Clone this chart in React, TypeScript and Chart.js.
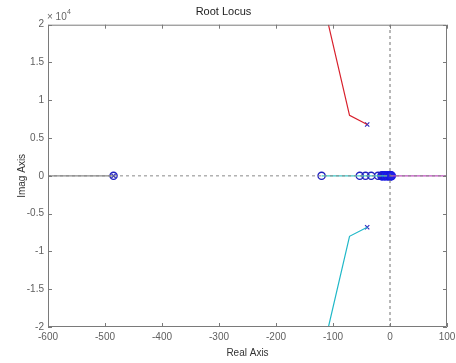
import React, { useEffect, useRef } from "react";
import { Chart, registerables } from "chart.js";

Chart.register(...registerables);

// Locus branches
const grayBranchX = [-600, -485];
const cyanRealX = [-120, -5];
const magentaRealX = [2, 100];
const upperBranch = [
  { x: -40, y: 6800 },
  { x: -71, y: 8000 },
  { x: -108, y: 20000 },
];
const lowerBranch = [
  { x: -40, y: -6800 },
  { x: -71, y: -8000 },
  { x: -108, y: -20000 },
];
// Zeros (circles)
const zerosX = [-485, -120, -53, -43, -33, -21];
const clusterZerosX = [-14, -9, -4, 0, 2];
// Poles (crosses)
const poles = [
  { x: -40, y: 6800 },
  { x: -40, y: -6800 },
  { x: -485, y: 0 },
];
const xTicks = [-600, -500, -400, -300, -200, -100, 0, 100];
const yTicks = [-20000, -15000, -10000, -5000, 0, 5000, 10000, 15000, 20000];

const FONT = "'Liberation Sans', Arial, sans-serif";

const framePlugin = {
  id: "frame",
  afterDatasetsDraw(chart: any) {
    const { ctx, chartArea: a, scales } = chart;
    ctx.save();
    ctx.strokeStyle = "#7a7a7a";
    ctx.lineWidth = 1;
    ctx.beginPath();
    ctx.rect(a.left + 0.5, a.top + 0.5, a.right - a.left - 1, a.bottom - a.top - 1);
    ctx.stroke();
    const tl = 4;
    ctx.beginPath();
    for (const v of xTicks) {
      const px = Math.round(scales.x.getPixelForValue(v)) + 0.5;
      ctx.moveTo(px, a.bottom);
      ctx.lineTo(px, a.bottom - tl);
      ctx.moveTo(px, a.top);
      ctx.lineTo(px, a.top + tl);
    }
    for (const v of yTicks) {
      const py = Math.round(scales.y.getPixelForValue(v)) + 0.5;
      ctx.moveTo(a.left, py);
      ctx.lineTo(a.left + tl, py);
      ctx.moveTo(a.right, py);
      ctx.lineTo(a.right - tl, py);
    }
    ctx.stroke();
    ctx.fillStyle = "#666";
    ctx.font = `10px ${FONT}`;
    ctx.textBaseline = "alphabetic";
    ctx.textAlign = "left";
    ctx.fillText("\u00d7 10", a.left - 1, a.top - 5);
    ctx.font = `7px ${FONT}`;
    ctx.fillText("4", a.left + 19, a.top - 11);
    ctx.restore();
  },
};

export default function App() {
  const ref = useRef<HTMLCanvasElement>(null);
  useEffect(() => {
    const canvas = ref.current!;
    const line = (data: any[], color: string, dash: number[] = [], width = 1) => ({
      type: "line",
      data,
      borderColor: color,
      borderWidth: width,
      borderDash: dash,
      pointRadius: 0,
      showLine: true,
      fill: false,
      tension: 0,
    });
    const chart = new Chart(canvas, {
      type: "scatter",
      data: {
        datasets: [
          line([{ x: -600, y: 0 }, { x: 100, y: 0 }], "#8a8a8a", [3, 3]),
          line([{ x: 0, y: -20000 }, { x: 0, y: 20000 }], "#707070", [3, 3]),
          line(grayBranchX.map((x) => ({ x, y: 0 })), "#8a8a8a", [], 1.2),
          line(cyanRealX.map((x) => ({ x, y: 0 })), "#40c8c8", [], 1.2),
          line(magentaRealX.map((x) => ({ x, y: 0 })), "#c050c0", [], 1.2),
          line(upperBranch, "#d8202c", [], 1.2),
          line(lowerBranch, "#20b8c8", [], 1.2),
          {
            data: zerosX.map((x) => ({ x, y: 0 })),
            pointStyle: "circle",
            pointRadius: 3.6,
            borderColor: "#2020c0",
            backgroundColor: "rgba(0,0,0,0)",
            borderWidth: 1.3,
            showLine: false,
          },
          {
            data: clusterZerosX.map((x) => ({ x, y: 0 })),
            pointStyle: "circle",
            pointRadius: 4.3,
            borderColor: "#1818e0",
            backgroundColor: "#2020e8",
            borderWidth: 1.2,
            showLine: false,
          },
          {
            data: poles,
            pointStyle: "crossRot",
            pointRadius: 3,
            borderColor: "#3030c0",
            borderWidth: 1.2,
            showLine: false,
          },
        ] as any,
      },
      options: {
        animation: false,
        responsive: false,
        devicePixelRatio: 1,
        layout: { padding: { top: 0, right: 9, bottom: 0, left: 0 } },
        plugins: {
          legend: { display: false },
          tooltip: { enabled: false },
          title: {
            display: true,
            text: "Root Locus",
            color: "#222",
            font: { family: FONT, size: 11, weight: "normal" },
            padding: { top: 5, bottom: 6.5 },
          },
        },
        scales: {
          x: {
            type: "linear",
            min: -600,
            max: 100,
            afterFit: (s: any) => {
              s.height = 36;
              s.paddingLeft = 0;
              s.paddingRight = 0;
            },
            afterBuildTicks: (s: any) => {
              s.ticks = xTicks.map((v) => ({ value: v }));
            },
            grid: { display: false, drawTicks: false },
            border: { display: false },
            ticks: {
              color: "#606060",
              font: { family: FONT, size: 10 },
              padding: 4,
              maxRotation: 0,
              autoSkip: false,
            },
            title: {
              display: true,
              text: "Real Axis",
              color: "#333",
              font: { family: FONT, size: 10 },
              padding: { top: 0, bottom: 4 },
            },
          },
          y: {
            type: "linear",
            min: -20000,
            max: 20000,
            afterFit: (s: any) => {
              s.width = 48;
              s.paddingTop = 0;
              s.paddingBottom = 0;
            },
            afterBuildTicks: (s: any) => {
              s.ticks = yTicks.map((v) => ({ value: v }));
            },
            grid: { display: false, drawTicks: false },
            border: { display: false },
            ticks: {
              color: "#606060",
              font: { family: FONT, size: 10 },
              padding: 4,
              autoSkip: false,
              callback: (v: any) => String(Number(v) / 10000),
            },
            title: {
              display: true,
              text: "Imag Axis",
              color: "#333",
              font: { family: FONT, size: 10 },
              padding: { top: 16, bottom: 0 },
            },
          },
        },
      } as any,
      plugins: [framePlugin],
    });
    return () => chart.destroy();
  }, []);
  return (
    <div style={{ position: "fixed", left: 0, top: 0, width: 456, height: 363, background: "#fff" }}>
      <canvas ref={ref} width={456} height={363} />
    </div>
  );
}
